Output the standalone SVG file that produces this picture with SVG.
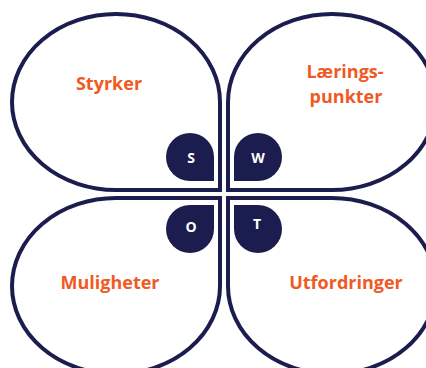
<svg xmlns="http://www.w3.org/2000/svg" width="426" height="368" viewBox="0 0 426 368">
<style>
.petal{fill:#fff;stroke:#1b1d4f;stroke-width:4}
.drop{fill:#1b1d4f}
.lbl{font-family:"Open Sans",sans-serif;font-weight:700;font-size:18px;fill:#ef5a24;text-anchor:middle}
.ltr{font-family:"Open Sans",sans-serif;font-weight:700;font-size:14px;fill:#fff;text-anchor:middle;dominant-baseline:central}
</style>
<rect width="426" height="368" fill="#fff"/>
<g id="strengths">
<path class="petal" d="M220,190 L220,102 A104,88 0 1 0 116,190 Z"/>
<path class="drop" d="M214,181 L214,157 A24,24 0 1 0 190,181 Z"/>
<text class="ltr" x="191" y="157">S</text>
<text class="lbl" x="109" y="90">Styrker</text>
</g>
<g id="weaknesses">
<path class="petal" d="M228,190 L228,102 A104,88 0 1 1 332,190 Z"/>
<path class="drop" d="M234,181 L234,157 A24,24 0 1 1 258,181 Z"/>
<text class="ltr" x="258" y="157">W</text>
<text class="lbl" x="345" y="78">Lærings-</text>
<text class="lbl" x="346" y="103">punkter</text>
</g>
<g id="opportunities">
<path class="petal" d="M220,198 L220,286 A104,88 0 1 1 116,198 Z"/>
<path class="drop" d="M214,205 L214,229 A24,24 0 1 1 190,205 Z"/>
<text class="ltr" x="191" y="226">O</text>
<text class="lbl" x="110" y="289">Muligheter</text>
</g>
<g id="threats">
<path class="petal" d="M228,198 L228,286 A104,88 0 1 0 332,198 Z"/>
<path class="drop" d="M234,205 L234,229 A24,24 0 1 0 258,205 Z"/>
<text class="ltr" x="257" y="223">T</text>
<text class="lbl" x="346" y="289">Utfordringer</text>
</g>
<g id="connectors"></g>
</svg>
